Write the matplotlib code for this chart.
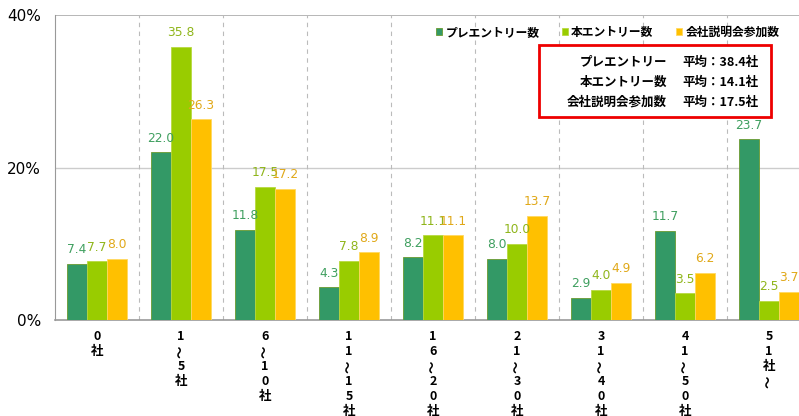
import numpy as np
import matplotlib
matplotlib.use("Agg")
import matplotlib.pyplot as plt
from matplotlib.patches import Rectangle
from matplotlib.transforms import blended_transform_factory, offset_copy

plt.rcParams['font.family'] = ['Noto Sans CJK JP', 'DejaVu Sans']

# "~" は縦書きの波線として回転して描く
categories = [["0", "社"], ["1", "~", "5", "社"], ["6", "~", "1", "0", "社"],
              ["1", "1", "~", "1", "5", "社"], ["1", "6", "~", "2", "0", "社"],
              ["2", "1", "~", "3", "0", "社"], ["3", "1", "~", "4", "0", "社"],
              ["4", "1", "~", "5", "0", "社"], ["5", "1", "社", "~"]]
series_names = ["プレエントリー数", "本エントリー数", "会社説明会参加数"]
pre_entry = [7.4, 22.0, 11.8, 4.3, 8.2, 8.0, 2.9, 11.7, 23.7]
main_entry = [7.7, 35.8, 17.5, 7.8, 11.1, 10.0, 4.0, 3.5, 2.5]
seminar = [8.0, 26.3, 17.2, 8.9, 11.1, 13.7, 4.9, 6.2, 3.7]
avg_names = ["プレエントリー", "本エントリー数", "会社説明会参加数"]
avg_values = ["平均：38.4社", "平均：14.1社", "平均：17.5社"]

bar_colors = ["#339966", "#99cc00", "#ffc000"]
label_colors = ["#3f9f5f", "#8fb51a", "#e0a818"]
edge_colors = ["#6a9a30", "#b8d840", "#ffd860"]

fig = plt.figure(figsize=(7.99, 4.16), dpi=100)
ax = fig.add_axes([55 / 799, 96 / 416, 744 / 799, 305 / 416])

x = np.arange(len(categories))
w = 0.238
for i, vals in enumerate([pre_entry, main_entry, seminar]):
    pos = x + (i - 1) * w
    ax.bar(pos, vals, width=w, color=bar_colors[i], edgecolor=edge_colors[i],
           linewidth=0.6, label=series_names[i], zorder=3)
    for px, v in zip(pos, vals):
        ax.text(px, v + 1.0, f"{v:.1f}", ha="center", va="bottom",
                fontsize=8.8, color=label_colors[i], family="DejaVu Sans", zorder=4)

ax.set_xlim(-0.5, 8.5 - 12 / 84)
ax.set_ylim(0, 40)
ax.set_yticks([0, 20, 40])
ax.set_yticklabels(["0%", "20%", "40%"], family="DejaVu Sans", fontsize=11)
ax.tick_params(axis="y", length=0, pad=10)
ax.set_xticks([])
ax.axhline(20, color="#cccccc", lw=1, zorder=1)
ax.axhline(40, color="#aaaaaa", lw=1.2, zorder=1)
for b in np.arange(0.5, 8.5, 1):
    ax.axvline(b, color="#bbbbbb", lw=0.8, ls=(0, (4, 4)), zorder=1)
for s in ["top", "right"]:
    ax.spines[s].set_visible(False)
ax.spines["left"].set_color("#999999")
ax.spines["bottom"].set_color("#999999")
ax.spines["bottom"].set_linewidth(1.2)

# 縦書きのカテゴリラベル
trans = blended_transform_factory(ax.transData, ax.transAxes)
for xi, chars in zip(x, categories):
    for k, ch in enumerate(chars):
        t = offset_copy(trans, fig=fig, x=0, y=-(12 + k * 10.8), units="points")
        if ch == "~":
            ax.text(xi, 0, "〜", transform=t, rotation=90, ha="center", va="center",
                    fontsize=9, fontweight="bold", clip_on=False)
        else:
            ax.text(xi, 0, ch, transform=t, ha="center", va="center",
                    fontsize=9, fontweight="bold", clip_on=False)

leg = ax.legend(loc="upper right", bbox_to_anchor=(790 / 799, 1 - 15 / 416), bbox_transform=fig.transFigure,
                ncol=3, frameon=False, fontsize=8.5, handlelength=0.55, handleheight=0.55,
                handletextpad=0.25, columnspacing=1.9, prop={"weight": "bold", "size": 8.5})

box = Rectangle((539 / 799, 1 - 117 / 416), 232 / 799, 72 / 416, transform=fig.transFigure,
                fill=True, facecolor="white", edgecolor="#ee0000", lw=2, zorder=5)
fig.patches.append(box)
for j in range(3):
    y = 1 - (62 + j * 20) / 416
    fig.text(667 / 799, y, avg_names[j], ha="right", va="center", fontsize=9,
             fontweight="bold", zorder=6)
    fig.text(682 / 799, y, avg_values[j], ha="left", va="center", fontsize=9,
             fontweight="bold", zorder=6)

fig.savefig("out.png", dpi=100)
